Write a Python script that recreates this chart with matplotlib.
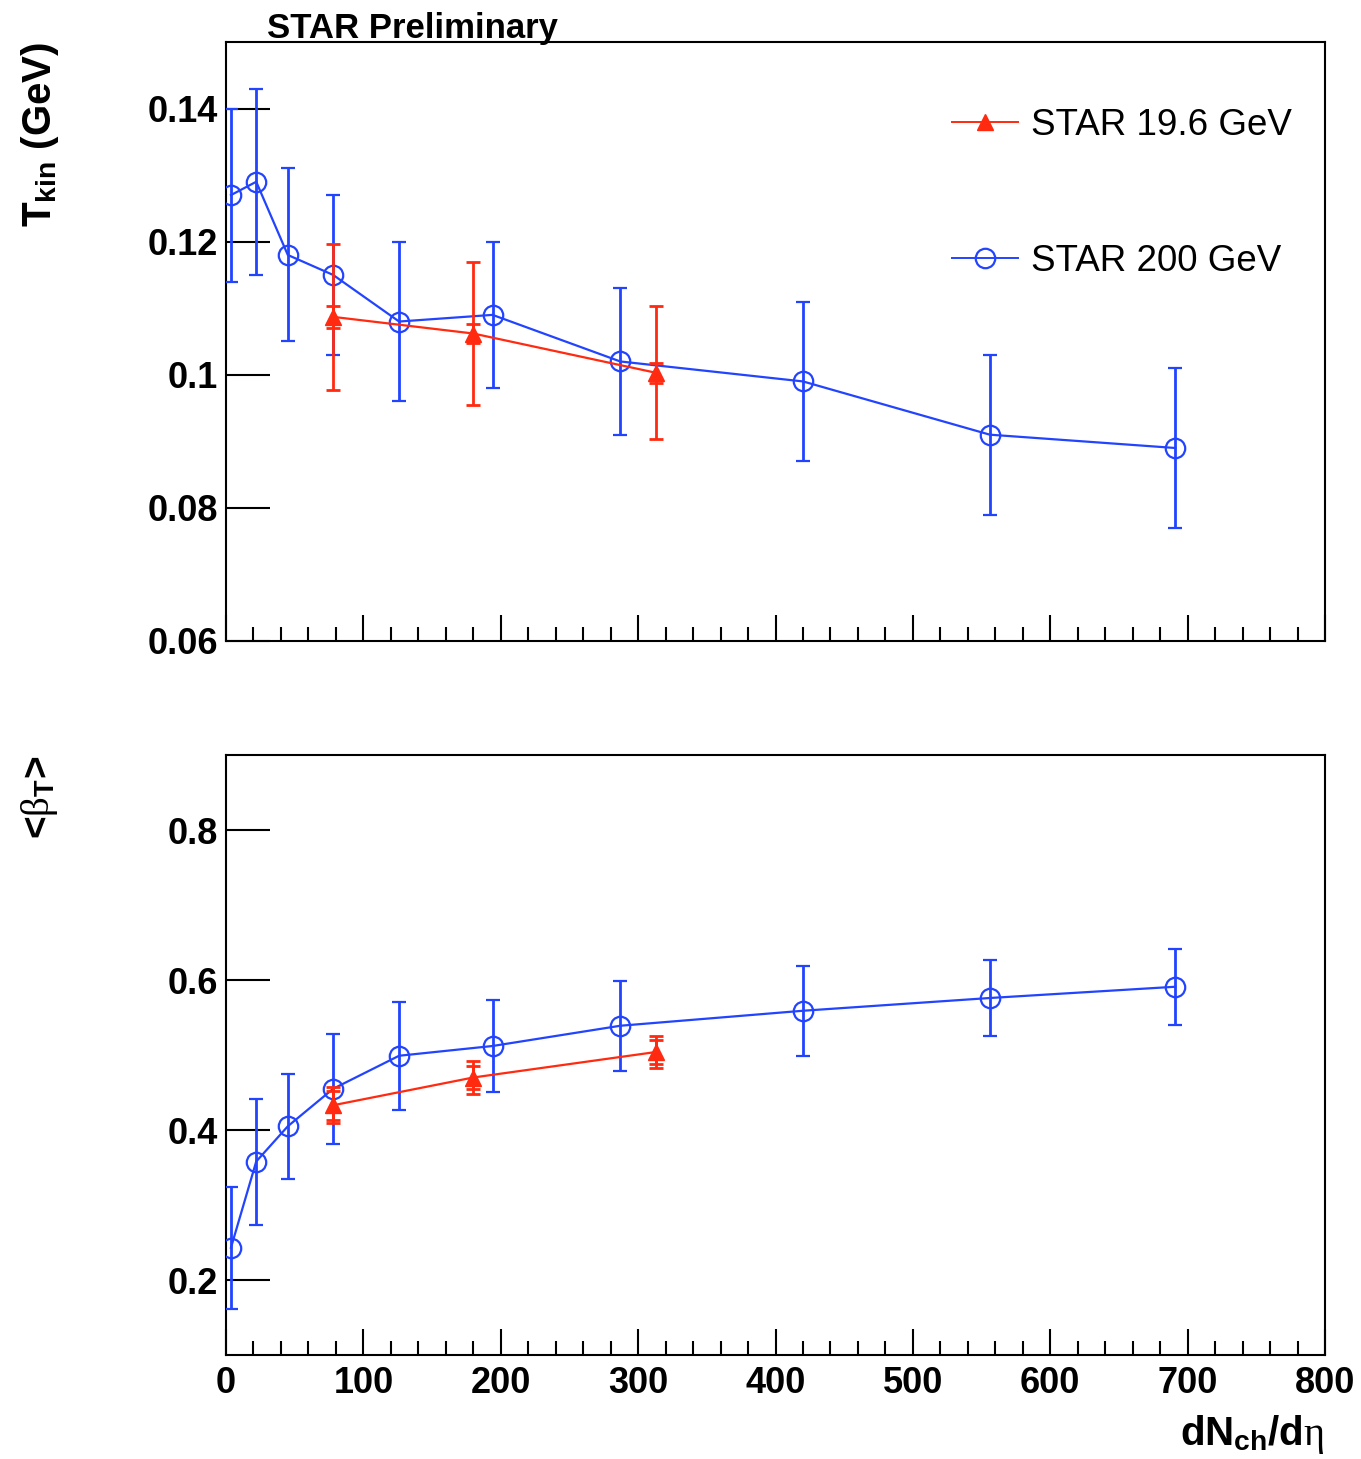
import matplotlib
matplotlib.use("Agg")
import matplotlib.pyplot as plt
from matplotlib.lines import Line2D
from matplotlib.ticker import MultipleLocator, FuncFormatter

plt.rcParams['font.family'] = ['Liberation Sans', 'DejaVu Sans']
plt.rcParams['mathtext.fontset'] = 'custom'
plt.rcParams['mathtext.rm'] = 'Liberation Serif'
plt.rcParams['mathtext.it'] = 'Liberation Serif:italic'
plt.rcParams['mathtext.bf'] = 'Liberation Sans:bold'
plt.rcParams['mathtext.sf'] = 'Liberation Sans'

# STAR 200 GeV (blue)
x200 = [3.6, 22, 45, 78, 126, 194, 287, 420, 556, 691]
t200 = [0.127, 0.129, 0.118, 0.115, 0.108, 0.109, 0.102, 0.099, 0.091, 0.089]
t200_err = [0.013, 0.014, 0.013, 0.012, 0.012, 0.011, 0.011, 0.012, 0.012, 0.012]
b200 = [0.243, 0.358, 0.405, 0.455, 0.499, 0.512, 0.539, 0.559, 0.576, 0.591]
b200_err = [0.081, 0.084, 0.070, 0.073, 0.072, 0.061, 0.060, 0.060, 0.051, 0.051]

# STAR 19.6 GeV (red): stat and sys errors
x19 = [78, 180, 313]
t19 = [0.1087, 0.1062, 0.1003]
t19_sys = [0.011, 0.0107, 0.010]
t19_stat = [0.0017, 0.0015, 0.0015]
b19 = [0.433, 0.470, 0.504]
b19_sys = [0.024, 0.0216, 0.021]
b19_stat = [0.019, 0.0156, 0.0156]

blue = '#2244ff'
red = '#ff2a10'
W, H = 1361, 1459

fig = plt.figure(figsize=(W / 100, H / 100), dpi=100)
ax1 = fig.add_axes([226 / W, 1 - 641 / H, 1099 / W, 599 / H])
ax2 = fig.add_axes([226 / W, 1 - 1355 / H, 1099 / W, 600 / H])


def draw(ax, y200, e200, y19, sys19, stat19):
    ax.errorbar(x200, y200, yerr=e200, color=blue, lw=1.6, elinewidth=2.0,
                capsize=5, capthick=2.0, marker='o', ms=14, mfc='none',
                mec=blue, mew=1.6, zorder=3)
    ax.errorbar(x19, y19, yerr=sys19, color=red, lw=1.6, elinewidth=2.0,
                capsize=5, capthick=2.0, fmt='none', zorder=4)
    ax.errorbar(x19, y19, yerr=stat19, color=red, lw=1.6, elinewidth=2.0,
                capsize=5, capthick=2.0, marker='^', ms=12, mfc=red,
                mec=red, zorder=4)


draw(ax1, t200, t200_err, t19, t19_sys, t19_stat)
draw(ax2, b200, b200_err, b19, b19_sys, b19_stat)

ax1.set_ylim(0.06, 0.15)
ax1.set_yticks([0.06, 0.08, 0.10, 0.12, 0.14])
ax2.set_ylim(0.1, 0.9)
ax2.set_yticks([0.2, 0.4, 0.6, 0.8])

fmt = FuncFormatter(lambda v, p: '%g' % round(v, 4))
for ax in (ax1, ax2):
    ax.set_xlim(0, 800)
    ax.xaxis.set_major_locator(MultipleLocator(100))
    ax.xaxis.set_minor_locator(MultipleLocator(20))
    ax.yaxis.set_major_formatter(fmt)
    for s in ax.spines.values():
        s.set_linewidth(1.5)
    ax.tick_params(axis='y', which='major', direction='in', length=32,
                   width=1.5, labelsize=26, pad=6, right=False)
    ax.tick_params(axis='x', which='major', direction='in', length=19,
                   width=1.5, labelsize=26, pad=8, top=False)
    ax.tick_params(axis='x', which='minor', direction='in', length=10,
                   width=1.5, top=False)
    for lab in ax.get_xticklabels() + ax.get_yticklabels():
        lab.set_fontweight('bold')
ax1.tick_params(axis='x', labelbottom=False)

handles = [
    Line2D([], [], color=red, lw=1.4, marker='^', ms=12, mfc=red, mec=red),
    Line2D([], [], color=blue, lw=1.4, marker='o', ms=14, mfc='none',
           mec=blue, mew=1.6),
]
ax1.legend(handles, ['STAR 19.6 GeV', 'STAR 200 GeV'], frameon=False,
           loc='upper left', bbox_to_anchor=(952 / W, 1 - 108 / H),
           bbox_transform=fig.transFigure, borderpad=0, borderaxespad=0,
           fontsize=26.5, labelspacing=2.75, handlelength=1.8,
           handletextpad=0.35)

fig.text(267 / W, 1 - 38 / H, 'STAR Preliminary', fontsize=25,
         fontweight='bold', va='baseline', ha='left')
fig.text(40 / W, 1 - 42 / H, r'T$_{\mathbf{kin}}$ (GeV)', fontsize=29,
         fontweight='bold', rotation=90, ha='center', va='top')
fig.text(40 / W, 1 - 755 / H, r'<$\mathrm{\beta}_{\mathbf{T}}$>',
         fontsize=28, fontweight='bold', rotation=90, ha='center', va='top')
fig.text(1325 / W, 1 - 1435 / H, r'dN$_{\mathbf{ch}}$/d$\mathrm{\eta}$',
         fontsize=29, fontweight='bold', ha='right', va='center')

fig.savefig('out.png', dpi=100)
